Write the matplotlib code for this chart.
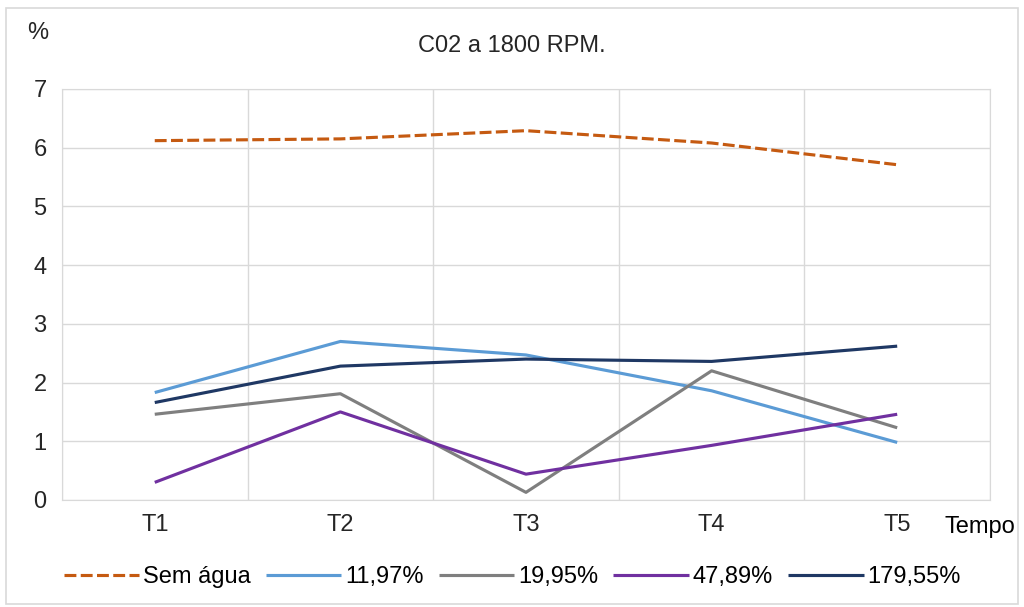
import numpy as np
import matplotlib
matplotlib.use("Agg")
import matplotlib.pyplot as plt
from matplotlib.patches import Rectangle

plt.rcParams["font.family"] = ["Liberation Sans", "DejaVu Sans"]

# Dados
tempos = ["T1", "T2", "T3", "T4", "T5"]
sem_agua = [6.12, 6.15, 6.29, 6.08, 5.71]
s_11_97 = [1.83, 2.70, 2.47, 1.86, 0.98]
s_19_95 = [1.46, 1.81, 0.13, 2.20, 1.23]
s_47_89 = [0.30, 1.50, 0.44, 0.93, 1.46]
s_179_55 = [1.66, 2.28, 2.40, 2.36, 2.62]

series = [
    ("Sem água", sem_agua, "#C55A11", (0, (3.8, 1.4))),
    ("11,97%", s_11_97, "#5B9BD5", "-"),
    ("19,95%", s_19_95, "#7F7F7F", "-"),
    ("47,89%", s_47_89, "#7030A0", "-"),
    ("179,55%", s_179_55, "#1F3864", "-"),
]

fs = 17
fig = plt.figure(figsize=(10.24, 6.07), dpi=100)
fig.patches.append(Rectangle((0.006, 0.005), 0.988, 0.982, transform=fig.transFigure,
                             fill=False, edgecolor="#D9D9D9", linewidth=1.2))
ax = fig.add_axes([0.0605, 0.1763, 0.9063, 0.6771])

x = np.arange(len(tempos))
for label, vals, color, ls in series:
    ax.plot(x, vals, color=color, linestyle=ls, linewidth=2.25, label=label,
            dash_capstyle="butt", solid_capstyle="butt")

ax.set_xlim(-0.5, len(tempos) - 0.5)
ax.set_ylim(0, 7)
ax.set_yticks(range(0, 8))
ax.set_xticks(x)
ax.set_xticklabels(tempos)
ax.set_xticks(np.arange(-0.5, len(tempos), 1.0), minor=True)
ax.grid(True, which="minor", axis="x", color="#D9D9D9", linewidth=1)
ax.grid(True, which="major", axis="y", color="#D9D9D9", linewidth=1)
ax.set_axisbelow(True)
ax.tick_params(which="both", length=0, labelsize=fs, colors="#262626")
ax.tick_params(axis="x", pad=10)
ax.tick_params(axis="y", pad=11)
for sp in ax.spines.values():
    sp.set_color("#D9D9D9")

fig.text(0.5, 0.925, "C02 a 1800 RPM.", ha="center", va="center", fontsize=fs, color="#262626")
fig.text(0.037, 0.945, "%", ha="center", va="center", fontsize=fs, color="#262626")
fig.text(0.957, 0.132, "Tempo", ha="center", va="center", fontsize=fs, color="#000000")

fig.legend(loc="center", bbox_to_anchor=(0.5, 0.049), ncol=5, frameon=False,
           fontsize=fs, handlelength=3.2, columnspacing=0.65, handletextpad=0.15)

fig.savefig("out.png", dpi=100)
